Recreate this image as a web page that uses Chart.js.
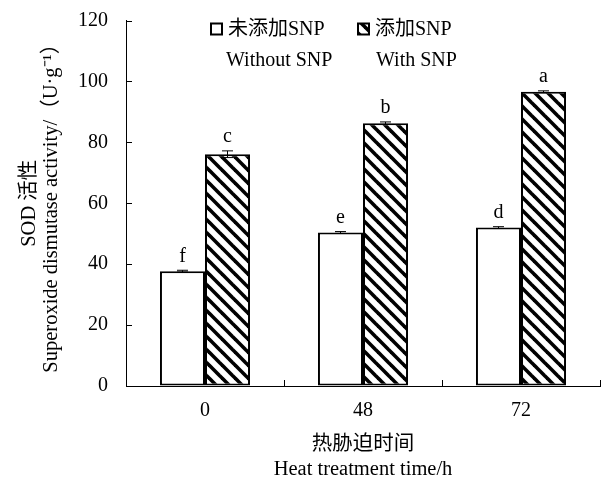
<!DOCTYPE html>
<html>
<head>
<meta charset="utf-8">
<script src="https://cdn.jsdelivr.net/npm/chart.js@4.4.1/dist/chart.umd.min.js"></script>
<style>
  html, body { margin: 0; padding: 0; background: #fff; }
  #wrap { width: 602px; height: 478px; }
</style>
</head>
<body>
<div id="wrap"><canvas id="myChart"></canvas></div>
<script>
// data
const categories = ['0', '48', '72'];
const withoutSNP = [37.7, 50.4, 52.0];
const withSNP = [76.1, 86.3, 96.6];
const errWithout = [0.3, 0.3, 0.3];
const errWith = [1.1, 0.4, 0.3];
const lettersWithout = ['f', 'e', 'd'];
const lettersWith = ['c', 'b', 'a'];
const legendCn = ['未添加SNP', '添加SNP'];
const legendEn = ['Without SNP', 'With SNP'];

const serif = "'Liberation Serif', 'Times New Roman', 'Noto Sans CJK SC', serif";

function makeHatch() {
    let s = 13;
    let c = document.createElement('canvas');
    c.width = s; c.height = s;
    let g = c.getContext('2d');
    g.fillStyle = '#fff';
    g.fillRect(0, 0, s, s);
    g.strokeStyle = '#000';
    g.lineWidth = 3.6;
    for (let k = -1; k <= 1; k++) {
        g.beginPath();
        g.moveTo(-s, -s + k * s);
        g.lineTo(2 * s, 2 * s + k * s);
        g.stroke();
    }
    return document.getElementById('myChart').getContext('2d').createPattern(c, 'repeat');
}
const hatch = makeHatch();

// error bars, letters, inner ticks and the legend
const extras = {
    id: 'extras',
    afterDatasetsDraw(chart) {
        const ctx = chart.ctx;
        const y = chart.scales.y;
        const x = chart.scales.x;
        const area = chart.chartArea;
        const errs = [errWithout, errWith];
        const letters = [lettersWithout, lettersWith];
        ctx.save();
        chart.data.datasets.forEach((ds, di) => {
            const meta = chart.getDatasetMeta(di);
            meta.data.forEach((bar, i) => {
                let v = ds.data[i];
                let top = y.getPixelForValue(v + errs[di][i]);
                let bot = y.getPixelForValue(v - errs[di][i]);
                ctx.strokeStyle = '#000';
                ctx.lineWidth = 1;
                ctx.beginPath();
                ctx.moveTo(bar.x, top); ctx.lineTo(bar.x, bot);
                ctx.moveTo(bar.x - 5.5, top); ctx.lineTo(bar.x + 5.5, top);
                ctx.moveTo(bar.x - 5.5, bot); ctx.lineTo(bar.x + 5.5, bot);
                ctx.stroke();
                ctx.fillStyle = '#000';
                ctx.font = '20px ' + serif;
                ctx.textAlign = 'center';
                ctx.textBaseline = 'bottom';
                ctx.fillText(letters[di][i], bar.x, top - 4);
            });
        });

        // inner ticks
        ctx.strokeStyle = '#000';
        ctx.lineWidth = 1;
        ctx.beginPath();
        y.ticks.forEach(t => {
            let py = Math.round(y.getPixelForValue(t.value)) + 0.5;
            ctx.moveTo(area.left, py); ctx.lineTo(area.left + 6, py);
        });
        for (let i = 0; i < categories.length; i++) {
            let px = Math.round((x.getPixelForValue(i) + x.getPixelForValue(i + 1)) / 2) + 0.5;
            ctx.moveTo(px, area.bottom); ctx.lineTo(px, area.bottom - 6);
        }
        ctx.stroke();

        // legend
        const fills = ['#fff', hatch];
        const lx = [area.left + 85, area.left + 232];
        ctx.font = '20px ' + serif;
        ctx.textAlign = 'left';
        ctx.textBaseline = 'middle';
        for (let k = 0; k < 2; k++) {
            ctx.fillStyle = fills[k];
            ctx.fillRect(lx[k], area.top + 3, 11, 11);
            ctx.lineWidth = 2;
            ctx.strokeStyle = '#000';
            ctx.strokeRect(lx[k], area.top + 3, 11, 11);
            ctx.fillStyle = '#000';
            ctx.fillText(legendCn[k], lx[k] + 17, area.top + 9);
            ctx.fillText(legendEn[k], lx[k] + (k == 0 ? 15 : 18), area.top + 40.5);
        }
        ctx.restore();
    }
};

const ctx = document.getElementById('myChart').getContext('2d');
const myChart = new Chart(ctx, {
    type: 'bar',
    data: {
        labels: categories,
        datasets: [
            {
                label: legendCn[0],
                data: withoutSNP,
                backgroundColor: '#fff',
                borderColor: '#000',
                borderWidth: 2,
                borderSkipped: false
            },
            {
                label: legendCn[1],
                data: withSNP,
                backgroundColor: hatch,
                borderColor: '#000',
                borderWidth: 2,
                borderSkipped: false
            }
        ]
    },
    options: {
        responsive: true,
        maintainAspectRatio: false,
        animation: false,
        devicePixelRatio: 1,
        layout: { padding: { left: 10, right: 2, top: 0, bottom: 0 } },
        datasets: { bar: { categoryPercentage: 0.57, barPercentage: 1.0 } },
        plugins: {
            legend: { display: false },
            tooltip: { enabled: false }
        },
        scales: {
            x: {
                grid: { drawOnChartArea: false, drawTicks: false },
                border: { color: '#000', width: 1 },
                ticks: { color: '#000', font: { family: serif, size: 20 }, padding: 13 },
                title: {
                    display: true,
                    text: ['热胁迫时间', 'Heat treatment time/h'],
                    color: '#000',
                    font: { family: serif, size: 20.5, lineHeight: 1.24 },
                    padding: { top: 0, bottom: -4.5 }
                },
                afterFit: function (scale) { scale.height = 92; }
            },
            y: {
                min: 0,
                max: 120,
                grid: { drawOnChartArea: false, drawTicks: false },
                border: { color: '#000', width: 1 },
                ticks: { stepSize: 20, color: '#000', font: { family: serif, size: 20 }, padding: 18 },
                title: {
                    display: true,
                    text: ['SOD 活性', 'Superoxide dismutase activity/（U·g⁻¹）'],
                    color: '#000',
                    font: { family: serif, size: 20.5, lineHeight: 1.07 },
                    padding: { top: 9, bottom: 8 }
                },
                afterFit: function (scale) {
                    scale.width = 116;
                    scale.paddingTop = 20.5;
                }
            }
        }
    },
    plugins: [extras]
});
</script>
</body>
</html>
